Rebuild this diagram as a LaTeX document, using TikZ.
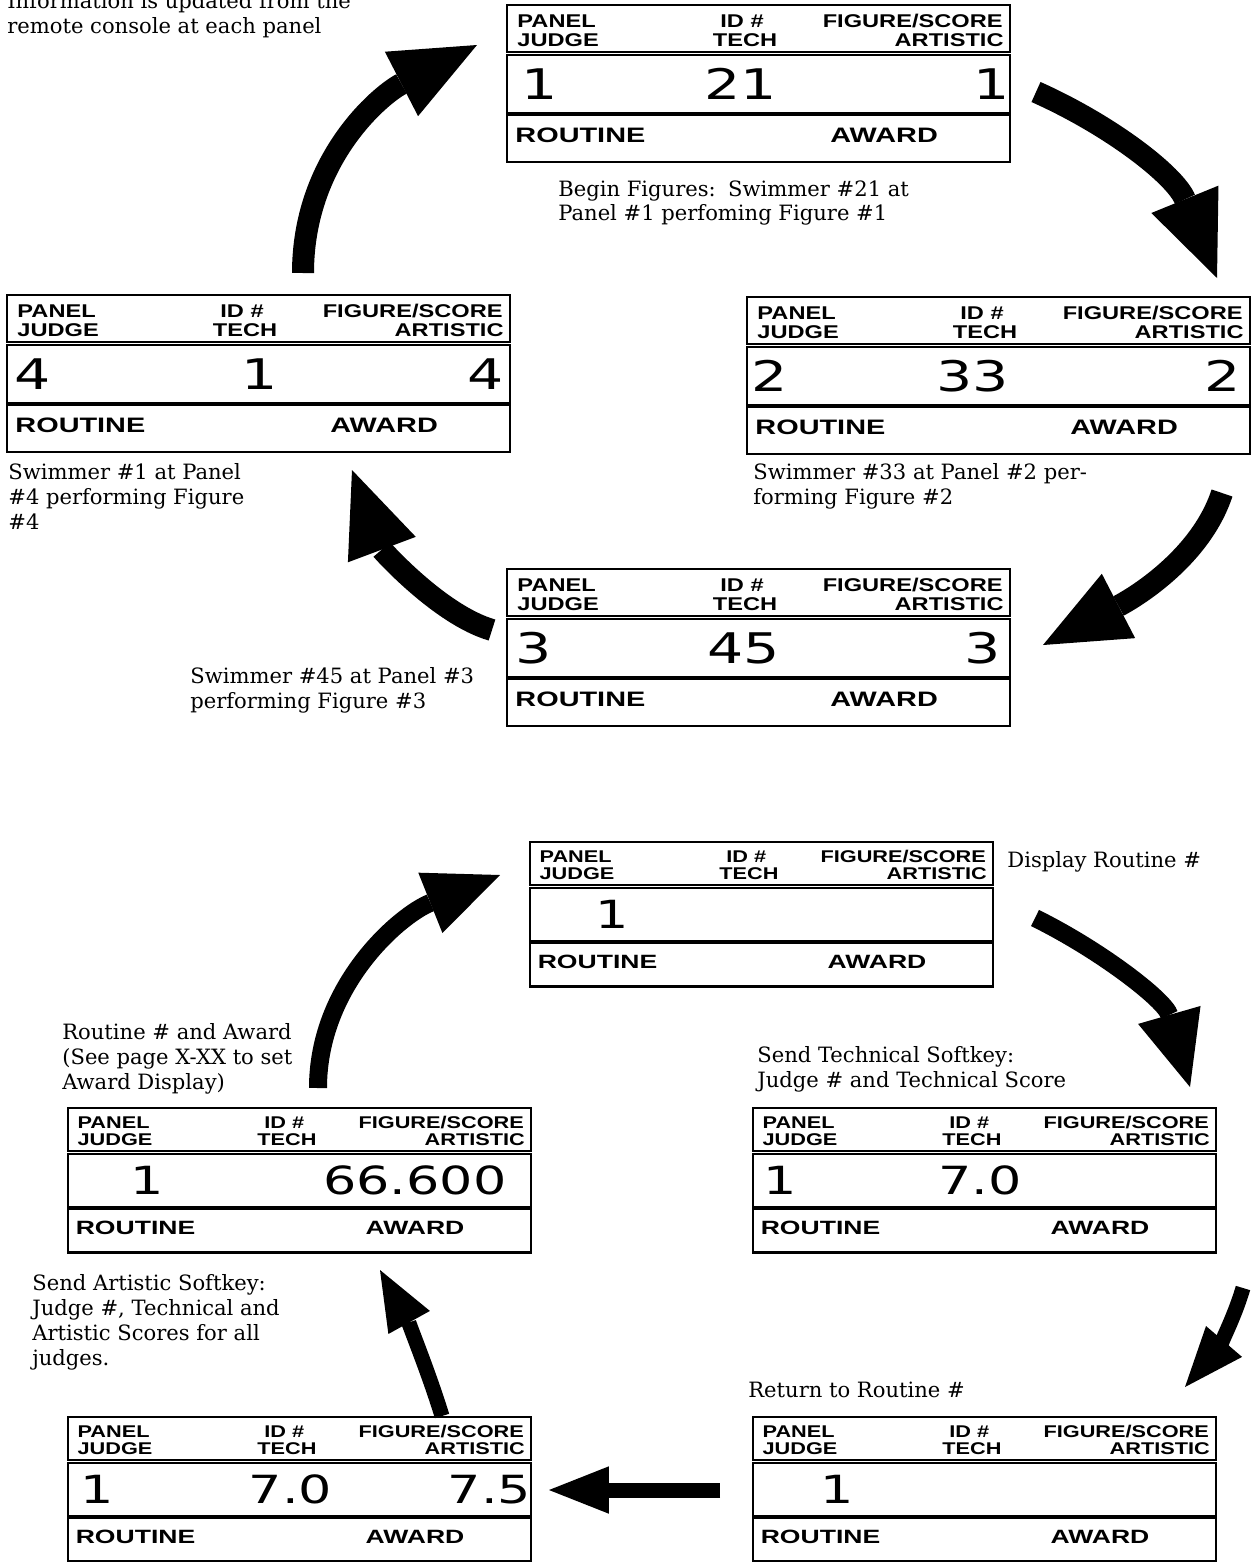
\documentclass[tikz,border=0pt]{standalone}
\usepackage{fontspec}
\setmainfont{DejaVu Serif}
\newfontfamily\panelfont{Liberation Sans}
\newfontfamily\segfont{DejaVu Sans}
\usetikzlibrary{
    arrows.meta,
    calc
}

% one display panel: name, top-left corner, scale, then x/text of the three readouts
\newcommand{\scorepanel}[9]{%
    \begin{scope}[shift={#2}, scale=#3, transform shape]
        \node[headbox] (#1-head) at (251.5,23.5) {};
        \node[digitbox] (#1-digits) at (251.5,79) {};
        \node[routbox] (#1-routine) at (251.5,133.5) {};
        \node[hdr, anchor=base west] (#1-panel) at (10,22) {PANEL};
        \node[hdr, anchor=base west] (#1-judge) at (10,41) {JUDGE};
        \node[hdr, anchor=base] (#1-id) at (235,22) {ID \#};
        \node[hdr, anchor=base] (#1-tech) at (238,41) {TECH};
        \node[hdr, anchor=base east] (#1-figure) at (496,22) {FIGURE/SCORE};
        \node[hdr, anchor=base east] (#1-artistic) at (497,41) {ARTISTIC};
        \node[rout, anchor=base west] (#1-rlabel) at (8,137) {ROUTINE};
        \node[rout, anchor=base west] (#1-award) at (323,137) {AWARD};
        \node[digit] (#1-jd) at (#4,79) {#5};
        \node[digit] (#1-td) at (#6,79) {#7};
        \node[digit] (#1-ad) at (#8,79) {#9};
    \end{scope}}

\begin{document}
\begin{tikzpicture}[
        x=0.02cm, y=-0.02cm,
        headbox/.style={
            rectangle,
            draw=black,
            line width=1.2pt,
            minimum width=10.06cm,
            minimum height=0.94cm,
            inner sep=0pt
        },
        digitbox/.style={
            headbox,
            minimum height=1.16cm
        },
        routbox/.style={
            headbox
        },
        hdr/.style={
            font=\panelfont\bfseries\fontsize{10.5pt}{11pt}\selectfont,
            xscale=1.28,
            inner sep=0pt
        },
        rout/.style={
            font=\panelfont\bfseries\fontsize{11.9pt}{13pt}\selectfont,
            xscale=1.38,
            inner sep=0pt
        },
        digit/.style={
            font=\segfont\fontsize{24pt}{25pt}\selectfont,
            xscale=1.35,
            inner sep=0pt
        },
        note/.style={
            font=\fontsize{12pt}{14.2pt}\selectfont,
            align=left,
            anchor=north west,
            inner sep=0pt
        },
        bigarrow/.style={
            line width=0.44cm,
            -{Triangle[length=17mm, width=14.5mm, line width=0pt]}
        },
        midarrow/.style={
            line width=0.36cm,
            -{Triangle[length=15mm, width=13mm, line width=0pt]}
        },
        smallarrow/.style={
            line width=0.3cm,
            -{Triangle[length=12mm, width=9.5mm, line width=0pt]}
        }
    ]

    \useasboundingbox (0,0) rectangle (1252,1562);

    % figures cycle
    \scorepanel{fig1}{(507,5)}{1}{33}{1}{234}{21}{485}{1}
    \scorepanel{fig2}{(747,297)}{1}{23}{2}{226}{33}{476}{2}
    \scorepanel{fig3}{(507,569)}{1}{27}{3}{237}{45}{476}{3}
    \scorepanel{fig4}{(7,295)}{1}{26}{4}{253}{1}{479}{4}

    \node[note] (intro) at (7,-8)
        {Information is updated from the\\remote console at each panel};
    \node[note] (begin) at (558,180)
        {Begin Figures:\, Swimmer \#21 at\\Panel \#1 perfoming Figure \#1};
    \node[note] (swim33) at (753,463)
        {Swimmer \#33 at Panel \#2 per-\\forming Figure \#2};
    \node[note] (swim45) at (190,667)
        {Swimmer \#45 at Panel \#3\\performing Figure \#3};
    \node[note] (swim1) at (8,463)
        {Swimmer \#1 at Panel\\\#4 performing Figure\\\#4};

    % routine cycle
    \scorepanel{rtn1}{(530,842)}{0.92}{89}{1}{240}{}{470}{}
    \scorepanel{rtn2}{(753,1108)}{0.92}{30}{1}{247}{7.0}{470}{}
    \scorepanel{rtn3}{(753,1417)}{0.92}{92}{1}{240}{}{470}{}
    \scorepanel{rtn4}{(68,1417)}{0.92}{32}{1}{242}{7.0}{458}{7.5}
    \scorepanel{rtn5}{(68,1108)}{0.92}{86}{1}{240}{}{377}{66.600}

    \node[note] (display) at (1007,851) {Display Routine \#};
    \node[note] (techkey) at (757,1046)
        {Send Technical Softkey:\\Judge \# and Technical Score};
    \node[note] (ret) at (748,1382) {Return to Routine \#};
    \node[note] (artkey) at (32,1274)
        {Send Artistic Softkey:\\Judge \#, Technical and\\Artistic Scores for all\\judges.};
    \node[note] (award) at (62,1023)
        {Routine \# and Award\\(See page X-XX to set\\Award Display)};

    % arrow ends
    \coordinate (a1t) at (303,273);  \coordinate (a1h) at (477,45);
    \coordinate (a2t) at (1036,92);  \coordinate (a2h) at (1217,278);
    \coordinate (a3t) at (1222,493); \coordinate (a3h) at (1043,645);
    \coordinate (a4t) at (492,630);  \coordinate (a4h) at (352,470);
    \coordinate (b1t) at (318,1088); \coordinate (b1h) at (500,875);
    \coordinate (b2t) at (1035,918); \coordinate (b2h) at (1190,1087);
    \coordinate (b3t) at (1243,1288);\coordinate (b3h) at (1185,1387);
    \coordinate (b4t) at (720,1490); \coordinate (b4h) at (549,1490);
    \coordinate (b5t) at (442,1416); \coordinate (b5h) at (380,1270);

    \draw[bigarrow] (a1t) .. controls (303,160) and (380,95) .. (a1h);
    \draw[bigarrow] (a2t) .. controls (1110,125) and (1175,175) .. (a2h);
    \draw[bigarrow] (a3t) .. controls (1200,560) and (1130,600) .. (a3h);
    \draw[bigarrow] (a4t) .. controls (440,615) and (382,550) .. (a4h);

    \draw[midarrow] (b1t) .. controls (318,985) and (400,915) .. (b1h);
    \draw[midarrow] (b2t) .. controls (1100,950) and (1165,1000) .. (b2h);
    \draw[smallarrow] (b3t) .. controls (1232,1325) and (1215,1352) .. (b3h);
    \draw[smallarrow] (b4t) -- (b4h);
    \draw[smallarrow] (b5t) .. controls (428,1370) and (405,1315) .. (b5h);

\end{tikzpicture}
\end{document}
